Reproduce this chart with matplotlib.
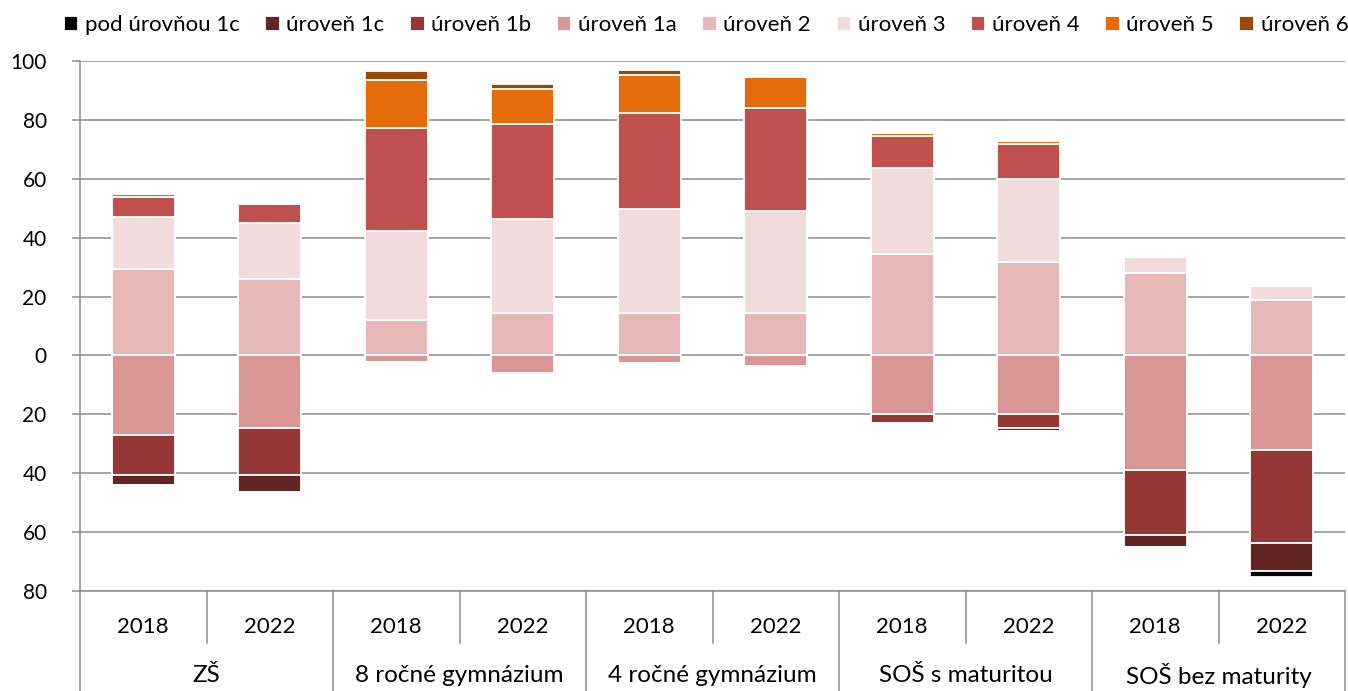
import matplotlib
matplotlib.use("Agg")
import matplotlib.pyplot as plt
import matplotlib.transforms as mtransforms
import numpy as np

plt.rcParams['font.family'] = ['Lato', 'DejaVu Sans']

groups = ["ZŠ", "8 ročné gymnázium", "4 ročné gymnázium", "SOŠ s maturitou", "SOŠ bez maturity"]
years = ["2018", "2022"]

series_names = ["pod úrovňou 1c", "úroveň 1c", "úroveň 1b", "úroveň 1a",
                "úroveň 2", "úroveň 3", "úroveň 4", "úroveň 5", "úroveň 6"]
colors = ["#000000", "#632523", "#953735", "#D99694",
          "#E6B9B8", "#F2DCDB", "#C0504D", "#E46C0A", "#984807"]

# values per bar (ZŠ 2018, ZŠ 2022, 8r 2018, 8r 2022, 4r 2018, 4r 2022, SOŠm 2018, SOŠm 2022, SOŠb 2018, SOŠb 2022)
below_1c = [0.0, 0.0, 0.0, 0.0, 0.0, 0.0, 0.0, 0.0, 0.0, 2.1]
level_1c = [3.4, 5.9, 0.0, 0.0, 0.0, 0.0, 0.0, 1.1, 4.0, 9.5]
level_1b = [13.8, 15.9, 0.0, 0.8, 0.0, 0.0, 3.2, 4.9, 22.3, 31.5]
level_1a = [26.9, 24.6, 2.3, 6.0, 2.4, 3.6, 19.8, 19.8, 38.8, 32.2]
level_2 = [29.2, 25.8, 12.1, 14.4, 14.4, 14.4, 34.5, 31.9, 28.1, 18.9]
level_3 = [17.7, 19.3, 30.3, 31.9, 35.3, 34.5, 29.2, 27.9, 5.4, 4.6]
level_4 = [6.9, 6.2, 34.8, 32.2, 32.7, 35.2, 10.8, 12.1, 0.0, 0.0]
level_5 = [1.0, 0.0, 16.5, 12.1, 13.0, 10.3, 1.1, 1.0, 0.0, 0.0]
level_6 = [0.0, 0.0, 2.8, 1.7, 1.6, 0.0, 0.0, 0.0, 0.0, 0.0]

W, H = 1348, 691
fig = plt.figure(figsize=(W / 100, H / 100), dpi=100)
ax = fig.add_axes([80 / W, (H - 591) / H, (1345 - 80) / W, (591 - 61) / H])

n = len(groups) * len(years)
x = np.arange(n)
bw = 0.5
edge = dict(edgecolor="white", linewidth=1.3, zorder=3)

handles = {}
# negative stack
neg = [(level_1a, 3), (level_1b, 2), (level_1c, 1), (below_1c, 0)]
bottom = np.zeros(n)
for vals, ci in neg:
    v = np.array(vals)
    b = ax.bar(x, -v, bw, bottom=bottom, color=colors[ci], **edge)
    handles[ci] = b
    bottom = bottom - v
# positive stack
pos = [(level_2, 4), (level_3, 5), (level_4, 6), (level_5, 7), (level_6, 8)]
bottom = np.zeros(n)
for vals, ci in pos:
    v = np.array(vals)
    b = ax.bar(x, v, bw, bottom=bottom, color=colors[ci], **edge)
    handles[ci] = b
    bottom = bottom + v

ax.set_xlim(-0.5, n - 0.5)
ax.set_ylim(-80, 100)
yt = np.arange(-80, 101, 20)
ax.set_yticks(yt)
ax.set_yticklabels([str(abs(int(t))) for t in yt], fontsize=15, color="#000000")
gray = "#8C8C8C"
ax.tick_params(axis="y", direction="out", length=6, width=1.1, color=gray, pad=18)
ax.set_xticks([])
ax.grid(axis="y", color=gray, linewidth=1.1, zorder=0)
ax.set_axisbelow(True)
for s in ["top", "right"]:
    ax.spines[s].set_visible(False)
ax.spines["left"].set_color(gray)
ax.spines["left"].set_linewidth(1.1)
ax.spines["bottom"].set_color(gray)
ax.spines["bottom"].set_linewidth(1.1)

# category axis below
trans = mtransforms.blended_transform_factory(ax.transData, ax.transAxes)
ax_h = 591 - 61
y_fig_bottom = -(H - 591) / ax_h
y_year_sep = -(643 - 591) / ax_h
for i in range(len(groups) + 1):
    xs = -0.5 + 2 * i
    ax.plot([xs, xs], [0, y_fig_bottom], color=gray, linewidth=1.1, transform=trans, clip_on=False)
for i in range(len(groups)):
    xs = 0.5 + 2 * i
    ax.plot([xs, xs], [0, y_year_sep], color=gray, linewidth=1.1, transform=trans, clip_on=False)
for i in range(n):
    ax.text(x[i], -(627 - 591) / ax_h, years[i % 2], transform=trans, ha="center", va="center", fontsize=16)
for g, name in enumerate(groups):
    ax.text(2 * g + 0.5, -(676 - 591) / ax_h, name, transform=trans, ha="center", va="center", fontsize=17.5)

order = list(range(9))
fig.legend([handles[i] for i in order], [series_names[i] for i in order],
           loc="center", bbox_to_anchor=(706 / W, 1 - 25 / H), ncol=9, frameon=False,
           fontsize=16, handlelength=0.65, handleheight=0.65, handletextpad=0.3,
           columnspacing=1.15, borderaxespad=0, borderpad=0)

fig.savefig("out.png", dpi=100)
